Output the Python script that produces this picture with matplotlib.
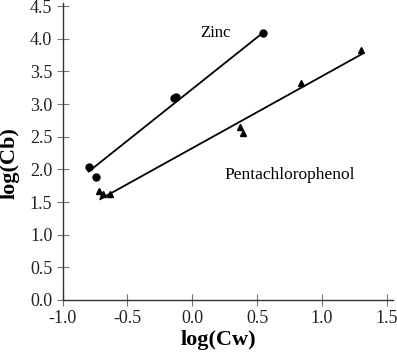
import matplotlib
matplotlib.use('Agg')
import matplotlib.pyplot as plt
import numpy as np

plt.rcParams['font.family'] = ['Liberation Serif', 'DejaVu Serif']

# Zinc points (log Cw, log Cb)
zinc_x = [-0.795, -0.745, -0.14, -0.125, 0.55]
zinc_y = [2.03, 1.89, 3.10, 3.11, 4.09]
# fitted line
zinc_fit = (1.58, 3.23)           # slope, intercept
zinc_span = [-0.80, 0.54]

# Pentachlorophenol points
pcp_x = [-0.72, -0.69, -0.635, 0.365, 0.39, 0.84, 1.305]
pcp_y = [1.67, 1.62, 1.63, 2.65, 2.56, 3.33, 3.83]
pcp_fit = (1.10, 2.325)
pcp_span = [-0.71, 1.31]

xticks = [-1.0, -0.5, 0.0, 0.5, 1.0, 1.5]
yticks = [0.0, 0.5, 1.0, 1.5, 2.0, 2.5, 3.0, 3.5, 4.0, 4.5]

fig = plt.figure(figsize=(3.97, 3.55), dpi=100)
ax = fig.add_axes([0.158, 0.155, 0.832, 0.837])

ax.plot(zinc_x, zinc_y, 'o', color='black', markersize=5)
ax.plot(pcp_x, pcp_y, '^', color='black', markersize=5)

xs = np.array(zinc_span)
ax.plot(xs, zinc_fit[0] * xs + zinc_fit[1], color='black', lw=1.3)
xs = np.array(pcp_span)
ax.plot(xs, pcp_fit[0] * xs + pcp_fit[1], color='black', lw=1.3)

ax.text(0.176, 4.09, 'Zinc', fontsize=12, ha='center', va='center')
ax.text(0.755, 1.91, 'Pentachlorophenol', fontsize=12.5, ha='center', va='center')

ax.set_xlim(-1.0, 1.55)
ax.set_ylim(0, 4.55)
ax.set_xticks(xticks)
ax.set_yticks(yticks)
ax.set_xticklabels([f'{v:.1f}' for v in xticks])
ax.set_yticklabels([f'{v:.1f}' for v in yticks])
ax.tick_params(direction='inout', length=9, width=0.8, color='#777777',
               labelsize=13, pad=3, labelcolor='#222222')

for s in ['top', 'right']:
    ax.spines[s].set_visible(False)
for s in ['left', 'bottom']:
    ax.spines[s].set_color('#333333')
    ax.spines[s].set_linewidth(1.0)

fig.text(218 / 397, 1 - 340 / 355, 'log(Cw)', fontsize=16, fontweight='bold',
         ha='center', va='center')
fig.text(10 / 397, 1 - 163 / 355, 'log(Cb)', fontsize=16, fontweight='bold',
         ha='center', va='center', rotation=90)

fig.savefig('out.png', dpi=100)
